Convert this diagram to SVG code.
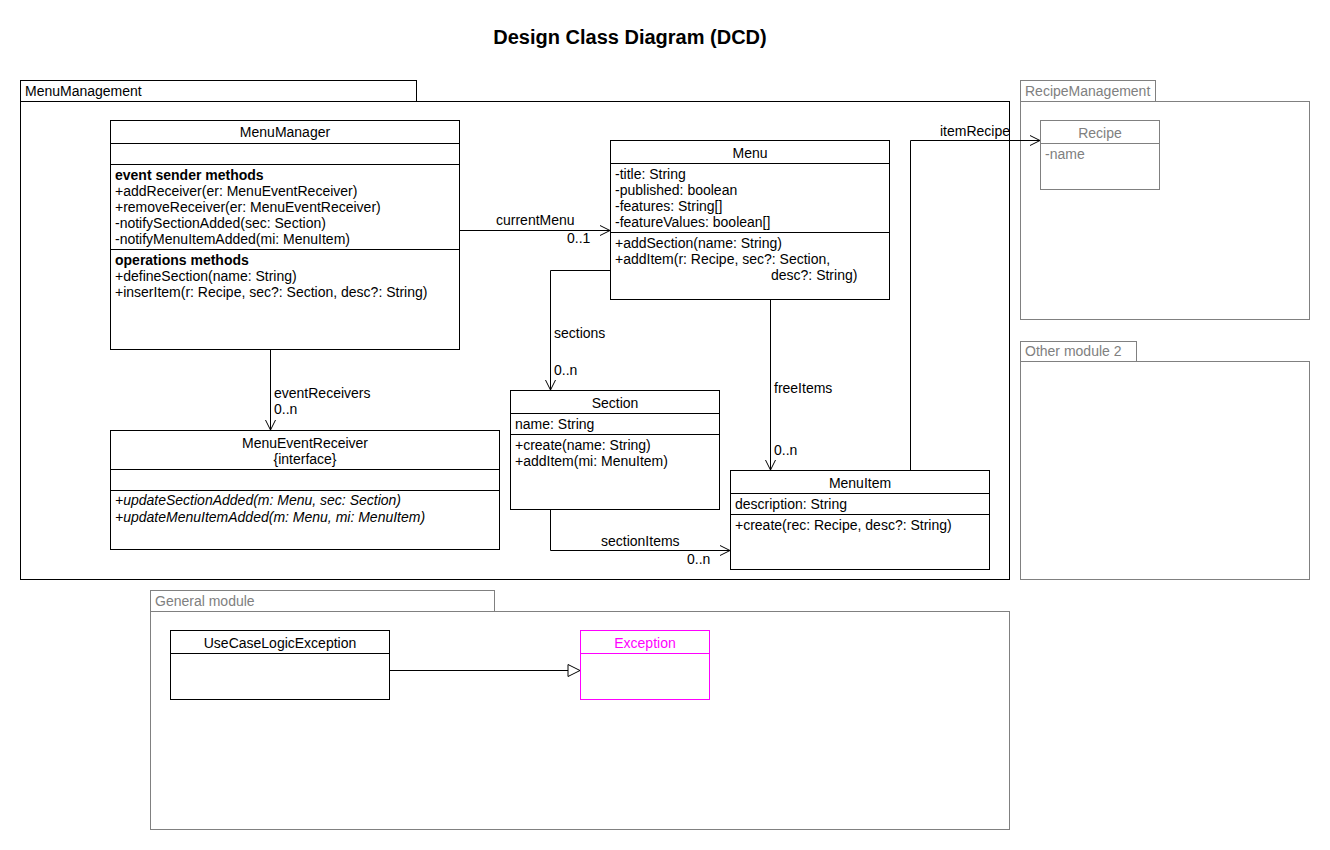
<svg xmlns="http://www.w3.org/2000/svg" width="1330" height="850" viewBox="0 0 1330 850">
<style>
text{font-family:"Liberation Sans",Arial,sans-serif;font-size:14px;fill:#000}
.t{font-size:20px;font-weight:bold}
.c{text-anchor:middle}
.b{font-weight:bold}
.i{font-style:italic}
.box{fill:#fff;stroke:#000;stroke-width:1}
.gbox{fill:#fff;stroke:#808080;stroke-width:1}
.g{fill:#808080}
.m{fill:#ff00ff}
.mbox{fill:#fff;stroke:#ff00ff;stroke-width:1}
.ln{stroke:#000;stroke-width:1;fill:none}
.gln{stroke:#808080;stroke-width:1;fill:none}
.mln{stroke:#ff00ff;stroke-width:1;fill:none}
</style>
<defs>
<marker id="open" markerWidth="12" markerHeight="12" refX="11" refY="6" orient="auto" markerUnits="userSpaceOnUse">
<path d="M1,1 L11,6 L1,11" fill="none" stroke="#000" stroke-width="1"/>
</marker>
<marker id="tri" markerWidth="14" markerHeight="14" refX="13" refY="7" orient="auto" markerUnits="userSpaceOnUse">
<path d="M1,1 L13,7 L1,13 Z" fill="#fff" stroke="#000" stroke-width="1"/>
</marker>
</defs>
<rect width="1330" height="850" fill="#fff"/>
<text class="t c" x="630" y="44">Design Class Diagram (DCD)</text>

<g id="pkg-MenuManagement">
<rect class="box" x="20.5" y="80.5" width="396" height="21"/>
<rect class="box" x="20.5" y="101.5" width="989" height="478"/>
<text x="25" y="96">MenuManagement</text>
</g>
<g id="pkg-RecipeManagement">
<rect class="gbox" x="1020.5" y="80.5" width="135" height="21"/>
<rect class="gbox" x="1020.5" y="101.5" width="289" height="218"/>
<text class="g" x="1025" y="96">RecipeManagement</text>
</g>
<g id="pkg-Other">
<rect class="gbox" x="1020.5" y="341.5" width="116" height="20"/>
<rect class="gbox" x="1020.5" y="361.5" width="289" height="218"/>
<text class="g" x="1025" y="356">Other module 2</text>
</g>
<g id="pkg-General">
<rect class="gbox" x="150.5" y="590.5" width="344" height="21"/>
<rect class="gbox" x="150.5" y="611.5" width="859" height="218"/>
<text class="g" x="155" y="606">General module</text>
</g>

<g id="MenuManager">
<rect class="box" x="110.5" y="120.5" width="349" height="229"/>
<path class="ln" d="M110,143.5H459M110,164.5H459M110,249.5H459"/>
<text class="c" x="285" y="137">MenuManager</text>
<text class="b" x="115" y="180">event sender methods</text>
<text x="115" y="196">+addReceiver(er: MenuEventReceiver)</text>
<text x="115" y="212">+removeReceiver(er: MenuEventReceiver)</text>
<text x="115" y="228">-notifySectionAdded(sec: Section)</text>
<text x="115" y="244">-notifyMenuItemAdded(mi: MenuItem)</text>
<text class="b" x="115" y="265">operations methods</text>
<text x="115" y="281">+defineSection(name: String)</text>
<text x="115" y="297">+inserItem(r: Recipe, sec?: Section, desc?: String)</text>
</g>

<g id="Menu">
<rect class="box" x="610.5" y="140.5" width="279" height="159"/>
<path class="ln" d="M610,163.5H889M610,232.5H889"/>
<text class="c" x="750" y="158">Menu</text>
<text x="615" y="179">-title: String</text>
<text x="615" y="195">-published: boolean</text>
<text x="615" y="211">-features: String[]</text>
<text x="615" y="227">-featureValues: boolean[]</text>
<text x="615" y="248">+addSection(name: String)</text>
<text x="615" y="264">+addItem(r: Recipe, sec?: Section,</text>
<text x="771" y="280">desc?: String)</text>
</g>

<g id="Section">
<rect class="box" x="510.5" y="390.5" width="209" height="119"/>
<path class="ln" d="M510,413.5H719M510,434.5H719"/>
<text class="c" x="615" y="408">Section</text>
<text x="515" y="429">name: String</text>
<text x="515" y="450">+create(name: String)</text>
<text x="515" y="466">+addItem(mi: MenuItem)</text>
</g>

<g id="MenuItem">
<rect class="box" x="730.5" y="470.5" width="259" height="99"/>
<path class="ln" d="M730,493.5H989M730,514.5H989"/>
<text class="c" x="860" y="488">MenuItem</text>
<text x="735" y="509">description: String</text>
<text x="735" y="530">+create(rec: Recipe, desc?: String)</text>
</g>

<g id="MenuEventReceiver">
<rect class="box" x="110.5" y="430.5" width="389" height="119"/>
<path class="ln" d="M110,469.5H499M110,490.5H499"/>
<text class="c" x="305" y="448">MenuEventReceiver</text>
<text class="c" x="305" y="464">{interface}</text>
<text class="i" x="115" y="505">+updateSectionAdded(m: Menu, sec: Section)</text>
<text class="i" x="115" y="522">+updateMenuItemAdded(m: Menu, mi: MenuItem)</text>
</g>

<g id="Recipe">
<rect class="gbox" x="1040.5" y="120.5" width="119" height="69"/>
<path class="gln" d="M1040,143.5H1159"/>
<text class="c g" x="1100" y="138">Recipe</text>
<text class="g" x="1045" y="159">-name</text>
</g>

<g id="UseCaseLogicException">
<rect class="box" x="170.5" y="630.5" width="219" height="69"/>
<path class="ln" d="M170,653.5H389"/>
<text class="c" x="280" y="648">UseCaseLogicException</text>
</g>

<g id="Exception">
<rect class="mbox" x="580.5" y="630.5" width="129" height="69"/>
<path class="mln" d="M580,653.5H709"/>
<text class="c m" x="645" y="648">Exception</text>
</g>

<g id="connectors">
<path class="ln" d="M459,230.5H610" marker-end="url(#open)"/>
<text x="496" y="225">currentMenu</text>
<text x="567" y="243">0..1</text>

<path class="ln" d="M610,270.5H550.5V390" marker-end="url(#open)"/>
<text x="554" y="338">sections</text>
<text x="554" y="375">0..n</text>

<path class="ln" d="M770.5,299V470" marker-end="url(#open)"/>
<text x="774" y="393">freeItems</text>
<text x="774" y="455">0..n</text>

<path class="ln" d="M550.5,509V550.5H730" marker-end="url(#open)"/>
<text x="601" y="546">sectionItems</text>
<text x="687" y="564">0..n</text>

<path class="ln" d="M910.5,470V140.5H1040" marker-end="url(#open)"/>
<text x="940" y="136">itemRecipe</text>

<path class="ln" d="M270.5,349V430" marker-end="url(#open)"/>
<text x="274" y="398">eventReceivers</text>
<text x="274" y="414">0..n</text>

<path class="ln" d="M389,670.5H580" marker-end="url(#tri)"/>
</g>
</svg>
